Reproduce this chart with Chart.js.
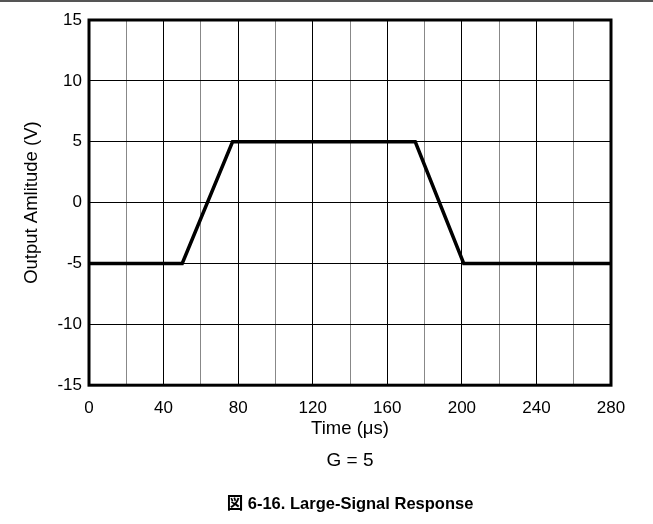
<!DOCTYPE html>
<html>
<head>
<meta charset="utf-8">
<title>Large-Signal Response</title>
<script src="https://cdn.jsdelivr.net/npm/chart.js@4/dist/chart.umd.min.js"></script>
<style>
  html, body { margin: 0; padding: 0; background: #fff; }
  #wrap { position: relative; width: 653px; height: 524px; }
  #rule { position: absolute; left: 0; top: 0; width: 653px; height: 2px; background: #555; }
</style>
</head>
<body>
<div id="wrap">
  <canvas id="chart" width="653" height="524"></canvas>
  <div id="rule"></div>
</div>
<script>
// waveform corners (time in us, output in V)
const timeUs = [0, 50, 77, 175, 201, 280];
const outputV = [-5, -5, 5, 5, -5, -5];

const xMin = 0, xMax = 280, xStep = 20, xLabelEvery = 40;
const yMin = -15, yMax = 15, yStep = 5;

const xTitle = 'Time (\u03bcs)';
const yTitle = 'Output Amlitude (V)';
const subCaption = 'G = 5';
const caption = '\u56f3 6-16. Large-Signal Response';

const FONT = '"Liberation Sans", Arial, "Noto Sans CJK JP", sans-serif';

// heavy box round the plot area
const frame = {
  id: 'frame',
  afterDraw(chart) {
    const a = chart.chartArea;
    const c = chart.ctx;
    c.save();
    c.strokeStyle = '#000';
    c.lineWidth = 3;
    c.strokeRect(a.left, a.top, a.right - a.left, a.bottom - a.top);
    c.restore();
  }
};

const points = timeUs.map((t, i) => ({ x: t, y: outputV[i] }));

new Chart(document.getElementById('chart'), {
  type: 'line',
  data: {
    datasets: [{
      data: points,
      borderColor: '#000',
      borderWidth: 3.5,
      pointRadius: 0,
      tension: 0,
      fill: false
    }]
  },
  options: {
    responsive: false,
    animation: false,
    layout: { padding: { left: 14, top: 20, right: 42, bottom: 6 } },
    plugins: {
      legend: { display: false },
      tooltip: { enabled: false },
      title: {
        display: true,
        text: caption,
        position: 'bottom',
        fullSize: false,
        color: '#000',
        font: { family: FONT, size: 16.5, weight: 'bold' },
        padding: { top: 17.7, bottom: 4 }
      },
      subtitle: {
        display: true,
        text: subCaption,
        position: 'bottom',
        fullSize: false,
        color: '#000',
        font: { family: FONT, size: 19 },
        padding: { top: 9.5, bottom: 4 }
      }
    },
    scales: {
      x: {
        type: 'linear',
        min: xMin,
        max: xMax,
        afterFit: s => { s.height = 55; },
        grid: {
          drawTicks: false,
          color: c => (c.tick && c.tick.value % xLabelEvery === 0) ? '#000' : '#888',
          lineWidth: 1
        },
        border: { display: false },
        ticks: {
          stepSize: xStep,
          padding: 13,
          color: '#000',
          font: { family: FONT, size: 17 },
          maxRotation: 0,
          autoSkip: false,
          callback: v => (v % xLabelEvery === 0 ? String(v) : '')
        },
        title: {
          display: true,
          text: xTitle,
          color: '#000',
          font: { family: FONT, size: 18.5 },
          padding: { top: 0, bottom: 0 }
        }
      },
      y: {
        min: yMin,
        max: yMax,
        afterFit: s => { s.width = 75; },
        grid: { drawTicks: false, color: '#000', lineWidth: 1 },
        border: { display: false },
        ticks: {
          stepSize: yStep,
          padding: 7,
          color: '#000',
          font: { family: FONT, size: 17 }
        },
        title: {
          display: true,
          text: yTitle,
          color: '#000',
          font: { family: FONT, size: 18.5 },
          padding: { top: 7, bottom: 0 }
        }
      }
    }
  },
  plugins: [frame]
});
</script>
</body>
</html>
